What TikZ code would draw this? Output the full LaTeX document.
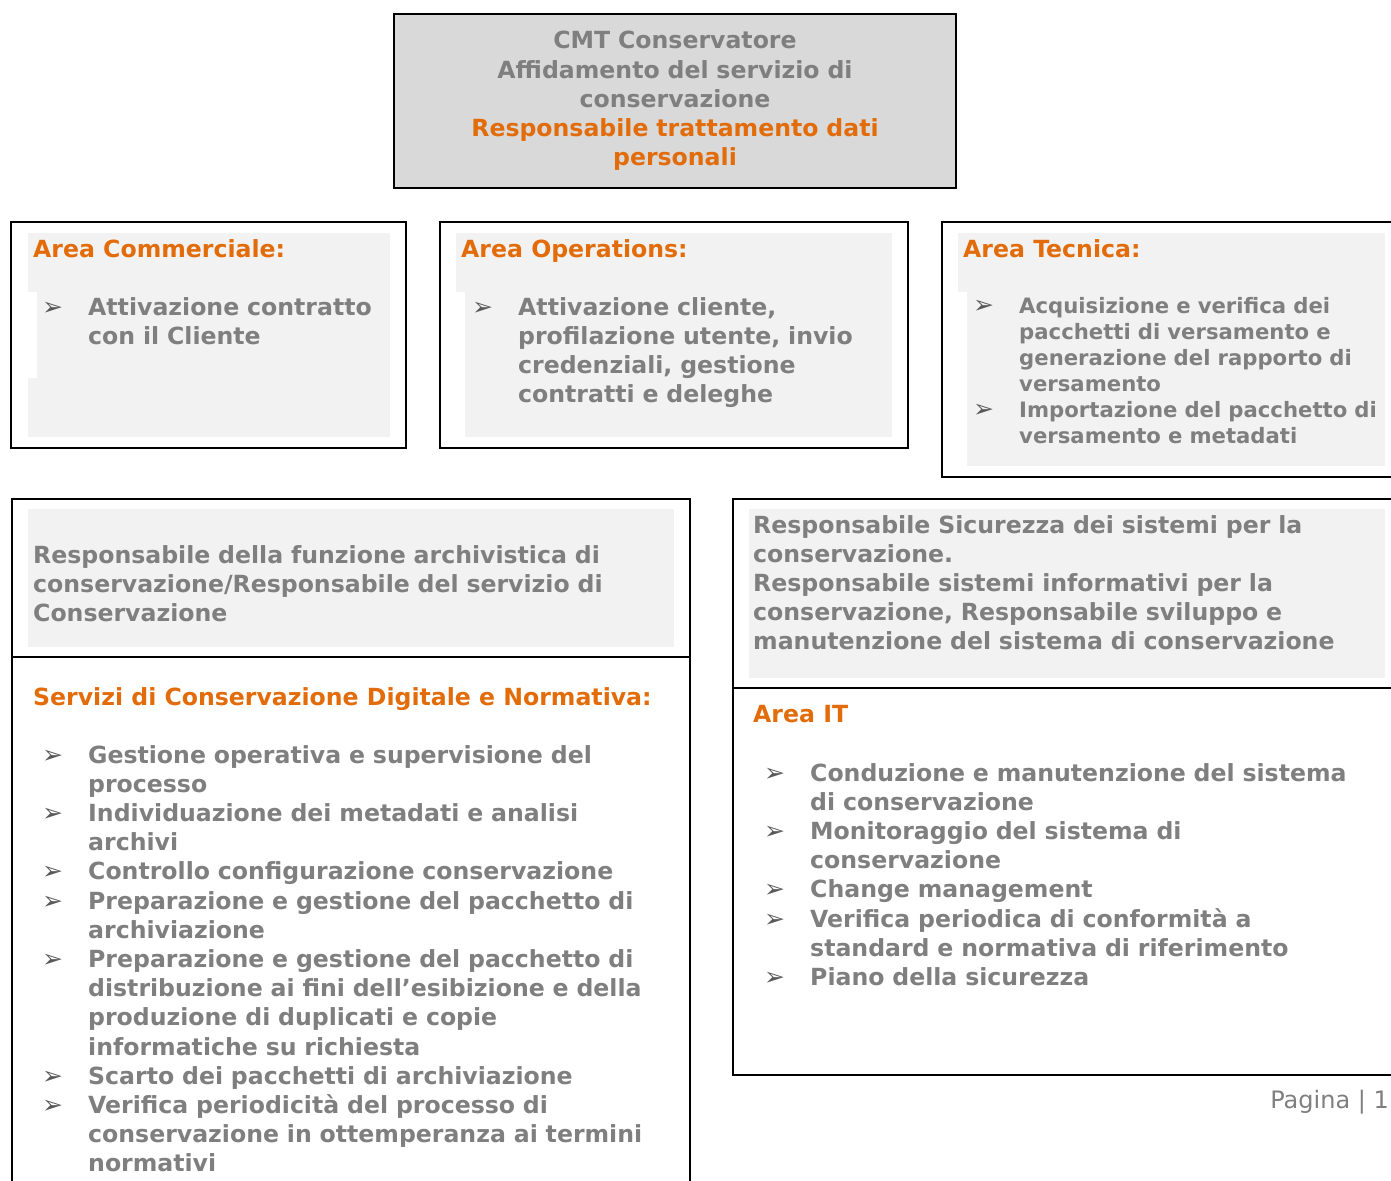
\documentclass[tikz,border=0pt]{standalone}
\usepackage{fontspec}
\setmainfont{DejaVu Sans}
\definecolor{cmtorange}{HTML}{E36C0A}
\definecolor{cmtgray}{HTML}{7F7F7F}
\definecolor{lightshade}{HTML}{F2F2F2}
\definecolor{topshade}{HTML}{D9D9D9}
\newcommand{\bitem}[1]{\noindent\hangindent=46pt\hangafter=1\makebox[46pt][l]{\textcolor{black!65}{\fontsize{25}{25}\selectfont\mdseries ➢}}#1\par}
\begin{document}
\begin{tikzpicture}[x=1pt,y=-1pt,
    boxline/.style={draw=black,line width=1.8pt},
    heading/.style={anchor=base west,inner sep=0pt,text=cmtorange,font=\fontsize{23.6}{29.2}\selectfont\bfseries},
    body/.style={anchor=base west,inner sep=0pt,text=cmtgray,font=\fontsize{23.6}{29.2}\selectfont\bfseries},
    smallbody/.style={body,font=\fontsize{21.2}{26}\selectfont\bfseries}]
  \useasboundingbox (0,0) rectangle (1391,1180);
  \clip (0,0) rectangle (1391,1180);
  % top
  \draw[boxline,fill=topshade] (394,14) rectangle (956,188);
  \node[body,anchor=base,text width=560pt,align=center] (cmt) at (675,49) {CMT Conservatore\\Affidamento del servizio di\\conservazione\\\textcolor{cmtorange}{Responsabile trattamento dati}\\\textcolor{cmtorange}{personali}};
  % area commerciale
  \fill[lightshade] (28,233) rectangle (390,437);
  \fill[white] (28,292) rectangle (37,378);
  \draw[boxline] (11,222) rectangle (406,448);
  \node[heading] (comm) at (33,257) {Area Commerciale:};
  \node[body,text width=340pt] (commlist) at (42,315) {\bitem{Attivazione contratto\newline con il Cliente}};
  % area operations
  \fill[lightshade] (456,233) rectangle (892,437);
  \fill[white] (456,292) rectangle (465,437);
  \draw[boxline] (440,222) rectangle (908,448);
  \node[heading] (ops) at (461,257) {Area Operations:};
  \node[body,text width=420pt] (opslist) at (472,315) {\bitem{Attivazione cliente,\newline profilazione utente, invio\newline credenziali, gestione\newline contratti e deleghe}};
  % area tecnica
  \fill[lightshade] (958,233) rectangle (1385,466);
  \fill[white] (958,292) rectangle (967,466);
  \draw[boxline] (942,222) rectangle (1400,477);
  \node[heading] (tec) at (963,257) {Area Tecnica:};
  \node[smallbody,text width=420pt] (teclist) at (973,313) {\bitem{Acquisizione e verifica dei\newline pacchetti di versamento e\newline generazione del rapporto di\newline versamento}\bitem{Importazione del pacchetto di\newline versamento e metadati}};
  % archivistica
  \fill[lightshade] (28,509) rectangle (674,647);
  \draw[boxline] (12,499) rectangle (690,1200);
  \draw[boxline] (12,657) -- (690,657);
  \node[body,text width=640pt] (arch) at (33,563) {Responsabile della funzione archivistica di\newline conservazione/Responsabile del servizio di\newline Conservazione};
  \node[heading] (serv) at (33,705) {Servizi di Conservazione Digitale e Normativa:};
  \node[body,text width=640pt] (servlist) at (42,763) {\bitem{Gestione operativa e supervisione del\newline processo}\bitem{Individuazione dei metadati e analisi\newline archivi}\bitem{Controllo configurazione conservazione}\bitem{Preparazione e gestione del pacchetto di\newline archiviazione}\bitem{Preparazione e gestione del pacchetto di\newline distribuzione ai fini dell’esibizione e della\newline produzione di duplicati e copie\newline informatiche su richiesta}\bitem{Scarto dei pacchetti di archiviazione}\bitem{Verifica periodicità del processo di\newline conservazione in ottemperanza ai termini\newline normativi}};
  % sicurezza / area IT
  \fill[lightshade] (749,509) rectangle (1385,678);
  \draw[boxline] (733,499) rectangle (1400,1075);
  \draw[boxline] (733,688) -- (1400,688);
  \node[body,text width=640pt] (sic) at (753,533) {Responsabile Sicurezza dei sistemi per la\newline conservazione.\newline Responsabile sistemi informativi per la\newline conservazione, Responsabile sviluppo e\newline manutenzione del sistema di conservazione};
  \node[heading] (it) at (753,722) {Area IT};
  \node[body,text width=620pt] (itlist) at (764,781) {\bitem{Conduzione e manutenzione del sistema\newline di conservazione}\bitem{Monitoraggio del sistema di\newline conservazione}\bitem{Change management}\bitem{Verifica periodica di conformità a\newline standard e normativa di riferimento}\bitem{Piano della sicurezza}};
  % footer
  \node[anchor=base east,inner sep=0pt,text=cmtgray,font=\fontsize{24}{28}\selectfont] (pag) at (1389,1108) {Pagina | 1};
\end{tikzpicture}
\end{document}
